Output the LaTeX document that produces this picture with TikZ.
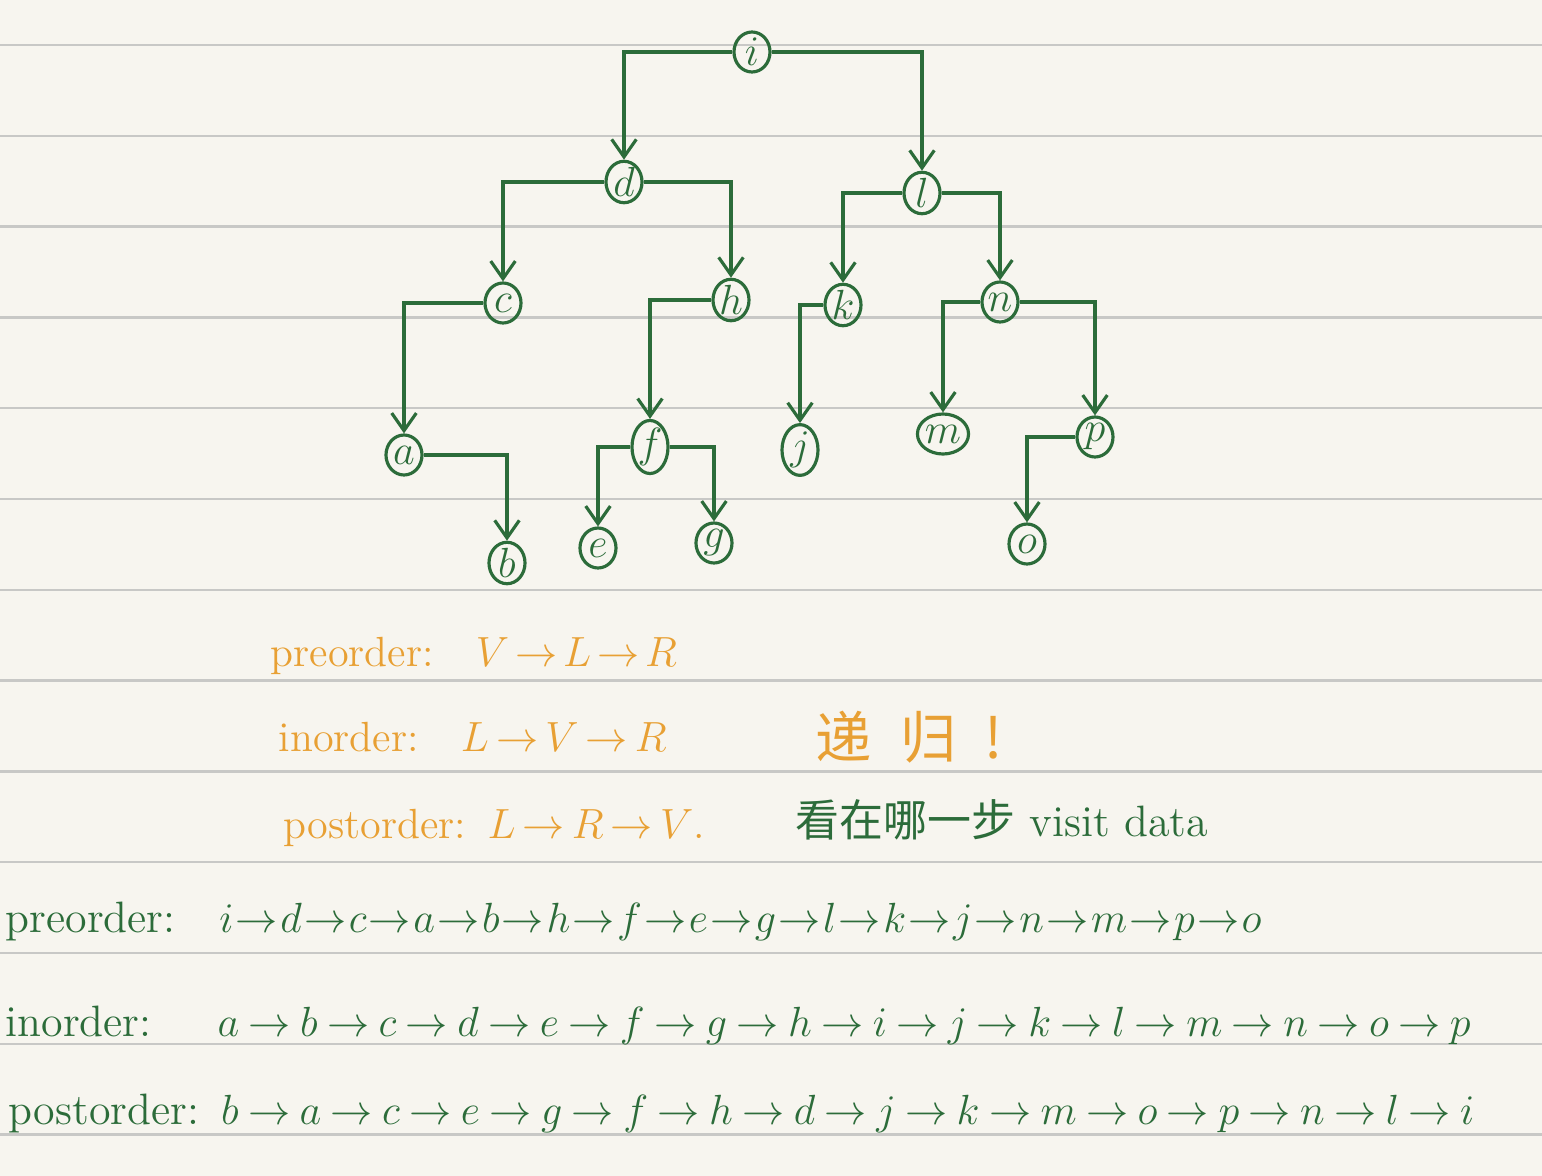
\documentclass[tikz,border=0pt]{standalone}
\usepackage{fontspec}
\newfontfamily\cjk{Noto Sans CJK SC}
\usetikzlibrary{arrows.meta,shapes.geometric}
\definecolor{paper}{RGB}{247,245,239}
\definecolor{rule}{RGB}{200,200,198}
\definecolor{ink}{RGB}{44,108,58}
\definecolor{amber}{RGB}{232,160,52}
\begin{document}
\begin{tikzpicture}[x=0.01cm, y=-0.01cm,
    vertex/.style={ellipse, draw=ink, text=ink, line width=0.9pt, minimum width=0.36cm, minimum height=0.40cm, inner sep=0pt, font=\large},
    link/.style={draw=ink, line width=0.9pt, -{Straight Barb[length=5pt,width=7pt]}},
    note/.style={anchor=base west, inner sep=0pt, text=amber, font=\fontsize{12}{14}\selectfont},
    walk/.style={anchor=base west, inner sep=0pt, text=ink, font=\fontsize{12.5}{15}\selectfont}]
	% notebook page
	\fill[paper] (0,0) rectangle (1542,1176);
	\useasboundingbox (0,0) rectangle (1542,1176);
	\foreach \k in {0,...,12}
		\draw[rule, line width=0.7pt] (0,45+90.8*\k) -- (1542,45+90.8*\k);
	
	% the tree
	\node (i) [vertex] at (752,52) {$i$};
	\node (d) [vertex] at (624,182) {$d$};
	\node (l) [vertex] at (922,193) {$l$};
	\node (c) [vertex] at (503,303) {$c$};
	\node (h) [vertex] at (731,300) {$h$};
	\node (k) [vertex] at (843,305) {$k$};
	\node (n) [vertex] at (1000,302) {$n$};
	\node (a) [vertex] at (404,455) {$a$};
	\node (f) [vertex] at (650,447) {$f$};
	\node (j) [vertex] at (800,450) {$j$};
	\node (m) [vertex] at (943,434) {$m$};
	\node (p) [vertex] at (1095,437) {$p$};
	\node (b) [vertex] at (507,563) {$b$};
	\node (e) [vertex] at (598,548) {$e$};
	\node (g) [vertex] at (714,543) {$g$};
	\node (o) [vertex] at (1027,544) {$o$};
	
	\draw[link] (i.west) -| (d.north);
	\draw[link] (i.east) -| (l.north);
	\draw[link] (d.west) -| (c.north);
	\draw[link] (d.east) -| (h.north);
	\draw[link] (l.west) -| (k.north);
	\draw[link] (l.east) -| (n.north);
	\draw[link] (c.west) -| (a.north);
	\draw[link] (a.east) -| (b.north);
	\draw[link] (h.west) -| (f.north);
	\draw[link] (f.west) -| (e.north);
	\draw[link] (f.east) -| (g.north);
	\draw[link] (k.west) -| (j.north);
	\draw[link] (n.west) -| (m.north);
	\draw[link] (n.east) -| (p.north);
	\draw[link] (p.west) -| (o.north);
	
	% rules of the three orders
	\node (prerule) [note] at (270,666) {\thickmuskip=2.5mu\relax preorder:\quad $V\rightarrow L\rightarrow R$};
	\node (inrule) [note] at (278,751) {\thickmuskip=3mu\relax inorder:\quad $L\rightarrow V\rightarrow R$};
	\node (postrule) [note] at (283,838) {\thickmuskip=3mu\relax postorder:\enspace $L\rightarrow R\rightarrow V$.};
	\node (recur) [anchor=base west, inner sep=0pt, text=amber, font=\fontsize{16}{18}\selectfont\cjk] at (815,758) {递\hspace{0.5em}归\hspace{0.5em}!};
	\node (hint) [anchor=base west, inner sep=0pt, text=ink, font=\fontsize{12.5}{15}\selectfont] at (795,836) {{\cjk 看在哪一步} visit data};
	
	% the three walks of this tree
	\node (prewalk) [walk] at (5,932) {\thickmuskip=1mu\relax preorder:\quad $i\rightarrow d\rightarrow c\rightarrow a\rightarrow b\rightarrow h\rightarrow f\rightarrow e\rightarrow g\rightarrow l\rightarrow k\rightarrow j\rightarrow n\rightarrow m\rightarrow p\rightarrow o$};
	\node (inwalk) [walk] at (5,1036) {\thickmuskip=4mu\relax inorder:\hspace{1.5em}$a\rightarrow b\rightarrow c\rightarrow d\rightarrow e\rightarrow f\rightarrow g\rightarrow h\rightarrow i\rightarrow j\rightarrow k\rightarrow l\rightarrow m\rightarrow n\rightarrow o\rightarrow p$};
	\node (postwalk) [walk] at (8,1124) {\thickmuskip=4mu\relax postorder:\enspace $b\rightarrow a\rightarrow c\rightarrow e\rightarrow g\rightarrow f\rightarrow h\rightarrow d\rightarrow j\rightarrow k\rightarrow m\rightarrow o\rightarrow p\rightarrow n\rightarrow l\rightarrow i$};
\end{tikzpicture}
\end{document}
